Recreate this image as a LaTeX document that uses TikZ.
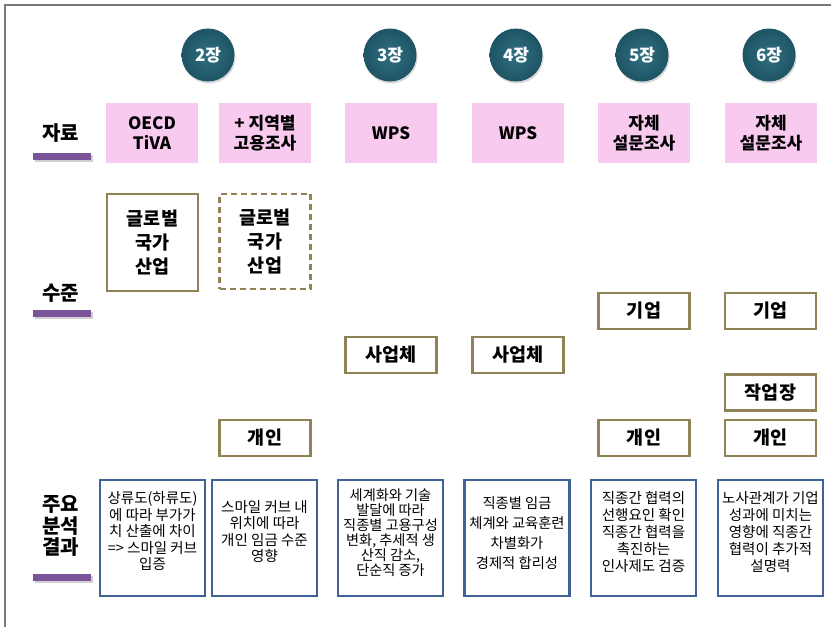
\documentclass[tikz,border=0pt]{standalone}
\usepackage{fontspec}
\setmainfont{Noto Sans CJK KR}
\usetikzlibrary{shadows}
\definecolor{pinkfill}{RGB}{249,202,240}
\definecolor{olivec}{RGB}{143,131,86}
\definecolor{blueb}{RGB}{63,99,153}
\definecolor{purp}{RGB}{122,84,155}
\definecolor{tealin}{RGB}{48,112,130}
\definecolor{tealout}{RGB}{30,84,100}
\definecolor{framegray}{RGB}{120,120,120}
\begin{document}
\begin{tikzpicture}[x=1pt,y=-1pt,
  chap/.style={circle, minimum size=53pt, inner sep=0pt, inner color=tealin, outer color=tealout,
     drop shadow={opacity=0.3, shadow xshift=1pt, shadow yshift=-2pt},
     text=white, font=\bfseries\fontsize{17}{19}\selectfont},
  src/.style={rectangle, fill=pinkfill, minimum width=92pt, minimum height=60pt, inner sep=0pt,
     align=center, font=\bfseries\fontsize{17}{20}\selectfont},
  lvl/.style={rectangle, draw=olivec, line width=2.5pt, fill=white, minimum width=91pt, minimum height=36pt,
     inner sep=0pt, align=center, font=\bfseries\fontsize{18.5}{24}\selectfont},
  res/.style={rectangle, draw=blueb, line width=2.2pt, minimum width=105pt, minimum height=116pt,
     inner sep=0pt, align=center, font=\fontsize{14.5}{16.5}\selectfont},
  rowlab/.style={align=center, inner sep=0pt, font=\bfseries\fontsize{20}{21.5}\selectfont}
]
\useasboundingbox (0,0) rectangle (831,627);
\fill[white] (0,0) rectangle (831,627);
\draw[framegray, line width=1.5pt] (5,627) -- (5,5) -- (831,5);

% chapter circles
\node[chap] (c2) at (208,55) {2장};
\node[chap] (c3) at (390,55) {3장};
\node[chap] (c4) at (516,55) {4장};
\node[chap] (c5) at (642,55) {5장};
\node[chap] (c6) at (769,55) {6장};

% row labels
\node[rowlab] (l1) at (61,133) {자료};
\node[rowlab] (l2) at (61,293) {수준};
\node[rowlab] (l3) at (61,526) {주요\\분석\\결과};
\foreach \yy in {157,314,578}{
  \fill[black!18] (35,\yy-2) rectangle (93,\yy+5);
  \fill[purp] (33,\yy-4) rectangle (91,\yy+3);
}

% data sources
\node[src] (s1) at (152,133) {OECD\\TiVA};
\node[src] (s2) at (265,133) {+ 지역별\\고용조사};
\node[src] (s3) at (391,133) {WPS};
\node[src] (s4) at (518,133) {WPS};
\node[src] (s5) at (644,133) {자체\\설문조사};
\node[src] (s6) at (771,133) {자체\\설문조사};

% levels
\node[lvl, minimum height=97pt] (v1) at (152.5,242.5) {글로벌\\국가\\산업};
\node[lvl, minimum height=95pt, dashed, dash pattern=on 6pt off 4pt] (v2) at (265,241.5) {글로벌\\국가\\산업};
\node[lvl] (v3) at (391,355) {사업체};
\node[lvl] (v4) at (518,355) {사업체};
\node[lvl] (v5) at (644,311) {기업};
\node[lvl] (v6) at (770.5,311) {기업};
\node[lvl] (v7) at (770.5,392.5) {작업장};
\node[lvl] (v8) at (265,438) {개인};
\node[lvl] (v9) at (644,438) {개인};
\node[lvl] (v10) at (770.5,438) {개인};

% results
\node[res] (r1) at (152.5,538) {상류도(하류도)\\에 따라 부가가\\치 산출에 차이\\=> 스마일 커브\\입증\\[-2pt]};
\node[res] (r2) at (264.5,538) {스마일 커브 내\\위치에 따라\\개인 임금 수준\\영향\\[-2pt]};
\node[res, font=\fontsize{14.2}{15}\selectfont] (r3) at (390.5,538) {세계화와 기술\\발달에 따라\\직종별 고용구성\\변화, 추세적 생\\산직 감소,\\단순직 증가\\[-4pt]};
\node[res, font=\fontsize{14.3}{20}\selectfont] (r4) at (517,538) {직종별 임금\\체계와 교육훈련\\차별화가\\경제적 합리성\\[-10pt]};
\node[res, font=\fontsize{14.5}{17}\selectfont] (r5) at (643.5,538) {직종간 협력의\\선행요인 확인\\직종간 협력을\\촉진하는\\인사제도 검증\\[-4pt]};
\node[res, font=\fontsize{14.5}{17}\selectfont] (r6) at (770.5,538) {노사관계가 기업\\성과에 미치는\\영향에 직종간\\협력이 추가적\\설명력\\[-4pt]};
\end{tikzpicture}
\end{document}
